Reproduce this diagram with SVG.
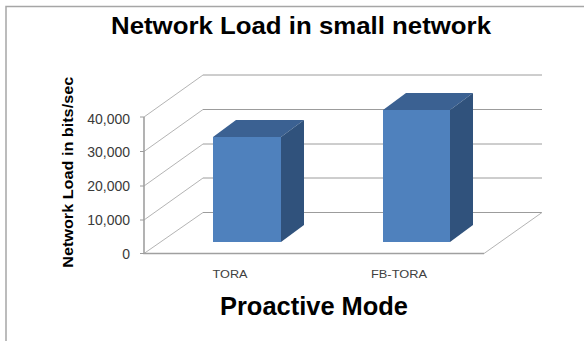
<svg xmlns="http://www.w3.org/2000/svg" width="584" height="341" viewBox="0 0 584 341">
  <style>
    .bg { fill: #ffffff; }
    .frame { fill: none; stroke: #a6a6a6; stroke-width: 1.5; }
    .title { font-family: "Liberation Sans", Arial, sans-serif; font-weight: bold; fill: #000000; }
    .tick { font-family: "Liberation Sans", Arial, sans-serif; font-size: 14px; fill: #3a3a3a; text-anchor: end; }
    .cat { font-family: "Liberation Sans", Arial, sans-serif; font-size: 11px; fill: #404040; text-anchor: middle; }
    .grid { stroke: #9c9c9c; stroke-width: 1; fill: none; }
    .diag { stroke: #b4b4b4; stroke-width: 1; fill: none; }
    .axis { stroke: #a0a0a0; stroke-width: 1.6; fill: none; }
    .front { fill: #4f81bd; }
    .top { fill: #3b6192; }
    .side { fill: #30527c; }
  </style>
  <rect class="bg" x="0" y="0" width="584" height="341"/>
  <path class="frame" d="M6,341 L6,6.5 L584,6.5"/>

  <text class="title" x="301" y="34.3" font-size="24" text-anchor="middle" textLength="380" lengthAdjust="spacingAndGlyphs">Network Load in small network</text>

  <g id="grid">
    <path class="grid" d="M203,75 H542 M203,109.5 H542 M203,144 H542 M203,178 H542 M203,212.5 H542"/>
    <path class="diag" d="M144,117 L203,75 M144,151.5 L203,109.5 M144,186 L203,144 M144,220 L203,178 M144,253.5 L203,212.5 M484,253.5 L542,212.5"/>
    <path class="axis" d="M144,117 V253.5 H484"/>
    <path class="grid" d="M140,117 H144 M140,151.5 H144 M140,186 H144 M140,220 H144 M140,253.5 H144"/>
  </g>

  <g id="yaxis-labels">
    <text class="tick" x="130" y="124">40,000</text>
    <text class="tick" x="130" y="157">30,000</text>
    <text class="tick" x="130" y="191">20,000</text>
    <text class="tick" x="130" y="225">10,000</text>
    <text class="tick" x="130" y="258.5">0</text>
  </g>

  <g id="bar-tora">
    <rect class="front" x="213" y="137" width="68" height="105"/>
    <polygon class="top" points="213,137 236,120 304,120 281,137"/>
    <polygon class="side" points="281,137 304,120 304,225 281,242"/>
  </g>

  <g id="bar-fb-tora">
    <rect class="front" x="383" y="110" width="67" height="132"/>
    <polygon class="top" points="383,110 406,93 473,93 450,110"/>
    <polygon class="side" points="450,110 473,93 473,225 450,242"/>
  </g>

  <g id="x-labels">
    <text class="cat" x="230" y="278" textLength="35" lengthAdjust="spacingAndGlyphs">TORA</text>
    <text class="cat" x="399" y="278" textLength="56" lengthAdjust="spacingAndGlyphs">FB-TORA</text>
  </g>

  <text class="title" x="314" y="315" font-size="25" text-anchor="middle" textLength="188" lengthAdjust="spacingAndGlyphs">Proactive Mode</text>

  <text class="title" font-size="14" text-anchor="middle" transform="translate(73,172.3) rotate(-90)" textLength="191" lengthAdjust="spacingAndGlyphs">Network Load in bits/sec</text>
</svg>
